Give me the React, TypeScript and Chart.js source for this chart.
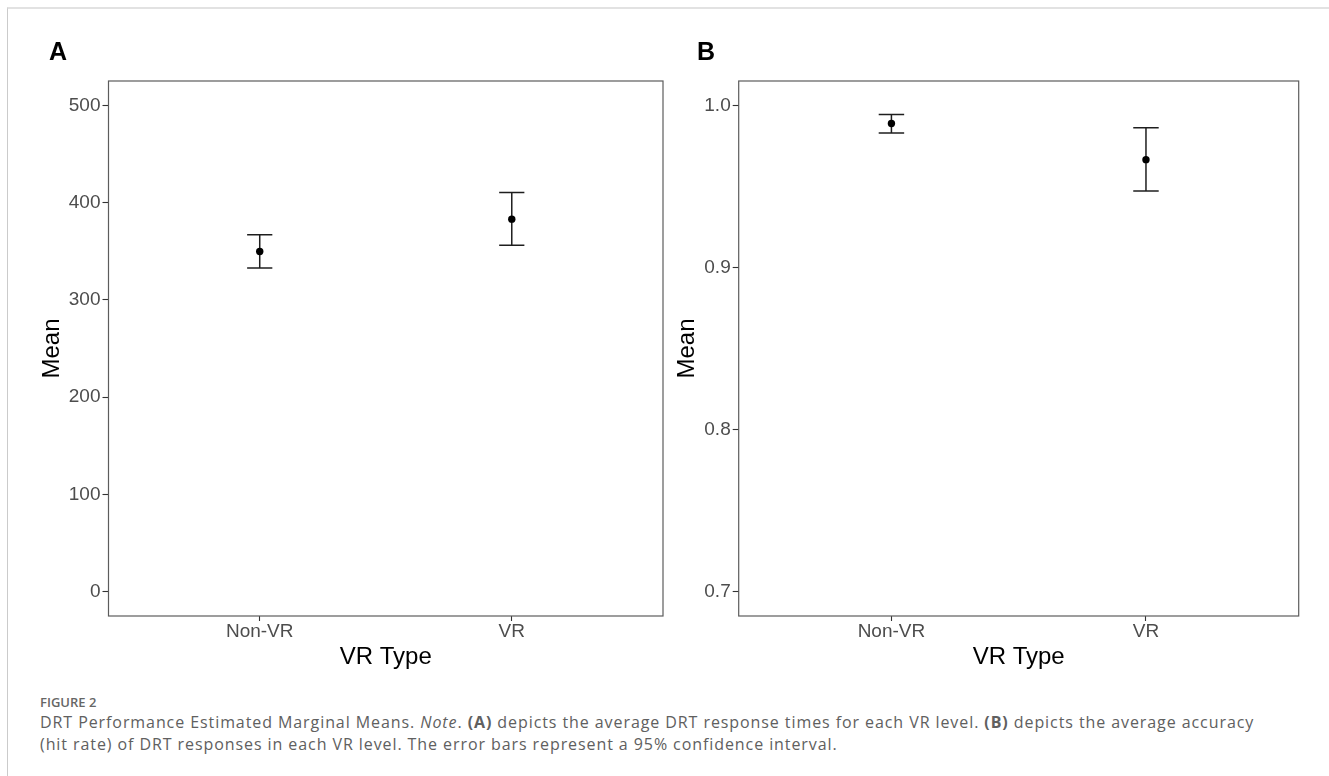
import React, { useEffect, useRef } from "react";
import { Chart, registerables } from "chart.js";

Chart.register(...registerables);

// ---------- data ----------
const categories = ["Non-VR", "VR"];

// Panel A: DRT response times
const rtMean = [349.7, 383.0];
const rtLower = [332.7, 356.1];
const rtUpper = [366.9, 410.5];
const rtTicks = [0, 100, 200, 300, 400, 500];

// Panel B: DRT accuracy (hit rate)
const accMean = [0.9888, 0.9665];
const accLower = [0.983, 0.9471];
const accUpper = [0.9944, 0.9861];
const accTicks = [0.7, 0.8, 0.9, 1.0];

const AXIS_FONT = "'Liberation Sans', Arial, Helvetica, sans-serif";
const CAP_HALF = 0.05;

const panelBorder = {
  id: "panelBorder",
  afterDraw(chart: any) {
    const { ctx, chartArea } = chart;
    const { left, top, right, bottom } = chartArea;
    ctx.save();
    ctx.strokeStyle = "#5c5c5c";
    ctx.lineWidth = 1.2;
    ctx.strokeRect(left, top, right - left, bottom - top);
    ctx.restore();
  },
};

type PanelSpec = {
  means: number[];
  lows: number[];
  highs: number[];
  ticks: number[];
  min: number;
  max: number;
  decimals: number;
  yWidth: number;
  xHeight: number;
  padRight: number;
  padTop: number;
  yTitlePad: number;
  xTitlePad: number;
};

function buildConfig(p: PanelSpec): any {
  const datasets: any[] = [];
  datasets.push({
    type: "scatter",
    data: p.means.map((m, i) => ({ x: i + 1, y: m })),
    pointRadius: 3.7,
    pointHoverRadius: 3.7,
    backgroundColor: "#000",
    borderWidth: 0,
  });
  const lineStyle = {
    type: "line",
    pointRadius: 0,
    borderColor: "#1e1e1e",
    borderWidth: 1.5,
    fill: false,
    tension: 0,
  };
  p.means.forEach((_, i) => {
    const x = i + 1;
    datasets.push({
      ...lineStyle,
      data: [
        { x, y: p.lows[i] },
        { x, y: p.highs[i] },
      ],
    });
    datasets.push({
      ...lineStyle,
      data: [
        { x: x - CAP_HALF, y: p.highs[i] },
        { x: x + CAP_HALF, y: p.highs[i] },
      ],
    });
    datasets.push({
      ...lineStyle,
      data: [
        { x: x - CAP_HALF, y: p.lows[i] },
        { x: x + CAP_HALF, y: p.lows[i] },
      ],
    });
  });

  return {
    type: "scatter",
    data: { datasets },
    plugins: [panelBorder],
    options: {
      animation: false,
      responsive: false,
      devicePixelRatio: 1,
      events: [],
      layout: { padding: { top: p.padTop, right: p.padRight, left: 0, bottom: 0 } },
      plugins: { legend: { display: false }, tooltip: { enabled: false } },
      scales: {
        x: {
          type: "linear",
          min: 0.4,
          max: 2.6,
          bounds: "data",
          afterBuildTicks: (s: any) => {
            s.ticks = categories.map((_, i) => ({ value: i + 1 }));
          },
          afterFit: (s: any) => {
            s.height = p.xHeight;
          },
          grid: {
            display: true,
            drawOnChartArea: false,
            drawTicks: true,
            tickLength: 5,
            tickColor: "#333",
            tickWidth: 1.1,
          },
          border: { display: false },
          ticks: {
            autoSkip: false,
            maxRotation: 0,
            padding: 1,
            color: "#4d4d4d",
            font: { family: AXIS_FONT, size: 19, lineHeight: 1 },
            callback: (v: any) => categories[Math.round(Number(v)) - 1] ?? "",
          },
          title: {
            display: true,
            text: "VR Type",
            color: "#000",
            font: { family: AXIS_FONT, size: 24, lineHeight: 1.2 },
            padding: { top: 0, bottom: p.xTitlePad },
          },
        },
        y: {
          type: "linear",
          min: p.min,
          max: p.max,
          bounds: "data",
          afterBuildTicks: (s: any) => {
            s.ticks = p.ticks.map((v) => ({ value: v }));
          },
          afterFit: (s: any) => {
            s.width = p.yWidth;
          },
          grid: {
            display: true,
            drawOnChartArea: false,
            drawTicks: true,
            tickLength: 6,
            tickColor: "#333",
            tickWidth: 1.1,
          },
          border: { display: false },
          ticks: {
            padding: 2,
            color: "#4d4d4d",
            font: { family: AXIS_FONT, size: 19, lineHeight: 1 },
            callback: (v: any) => Number(v).toFixed(p.decimals),
          },
          title: {
            display: true,
            text: "Mean",
            color: "#000",
            font: { family: AXIS_FONT, size: 24, lineHeight: 1.2 },
            padding: { top: p.yTitlePad, bottom: 0 },
          },
        },
      },
    },
  };
}

function Panel({
  spec,
  left,
  width,
  height,
}: {
  spec: PanelSpec;
  left: number;
  width: number;
  height: number;
}) {
  const ref = useRef<HTMLCanvasElement | null>(null);
  useEffect(() => {
    if (!ref.current) return;
    const chart = new Chart(ref.current, buildConfig(spec));
    return () => chart.destroy();
  }, []);
  return (
    <canvas
      ref={ref}
      width={width}
      height={height}
      style={{ position: "absolute", left, top: 0, width, height }}
    />
  );
}

const specA: PanelSpec = {
  means: rtMean,
  lows: rtLower,
  highs: rtUpper,
  ticks: rtTicks,
  min: -25,
  max: 525,
  decimals: 0,
  yWidth: 108.5,
  xHeight: 64,
  padRight: 700 - 663,
  padTop: 81,
  yTitlePad: 37.5,
  xTitlePad: 8,
};

const specB: PanelSpec = {
  means: accMean,
  lows: accLower,
  highs: accUpper,
  ticks: accTicks,
  min: 0.685,
  max: 1.015,
  decimals: 1,
  yWidth: 73.7,
  xHeight: 64,
  padRight: 1329 - 1298.7,
  padTop: 81,
  yTitlePad: 8,
  xTitlePad: 8,
};

const tagStyle: React.CSSProperties = {
  position: "absolute",
  top: 38.7,
  fontFamily: AXIS_FONT,
  fontWeight: "bold",
  fontSize: 25,
  lineHeight: "25px",
  color: "#000",
};

export default function App() {
  return (
    <div
      style={{
        position: "absolute",
        left: 0,
        top: 0,
        width: 1329,
        height: 776,
        background: "#fff",
        overflow: "hidden",
      }}
    >
      <div
        style={{
          position: "absolute",
          left: 7,
          top: 7,
          right: 0,
          bottom: 0,
          borderLeft: "1px solid #cbcbcb",
          borderTop: "2px solid #e2e2e2",
        }}
      />
      <Panel spec={specA} left={0} width={700} height={680} />
      <Panel spec={specB} left={665} width={664} height={680} />
      <div style={{ ...tagStyle, left: 49 }}>A</div>
      <div style={{ ...tagStyle, left: 697 }}>B</div>
      <div
        style={{
          position: "absolute",
          left: 40,
          top: 694,
          fontFamily: "'Open Sans', sans-serif",
          fontWeight: 600,
          fontSize: 13,
          lineHeight: "16px",
          color: "#666",
          whiteSpace: "nowrap",
        }}
      >
        FIGURE 2
      </div>
      <div
        style={{
          position: "absolute",
          left: 40,
          top: 711,
          fontFamily: "'Open Sans', sans-serif",
          fontSize: 16,
          letterSpacing: "0.92px",
          lineHeight: "22px",
          color: "#606060",
          whiteSpace: "nowrap",
        }}
      >
        DRT Performance Estimated Marginal Means. <i>Note</i>. <b>(A)</b> depicts the
        average DRT response times for each VR level. <b>(B)</b> depicts the average
        accuracy
        <br />
        (hit rate) of DRT responses in each VR level. The error bars represent a 95%
        confidence interval.
      </div>
    </div>
  );
}
